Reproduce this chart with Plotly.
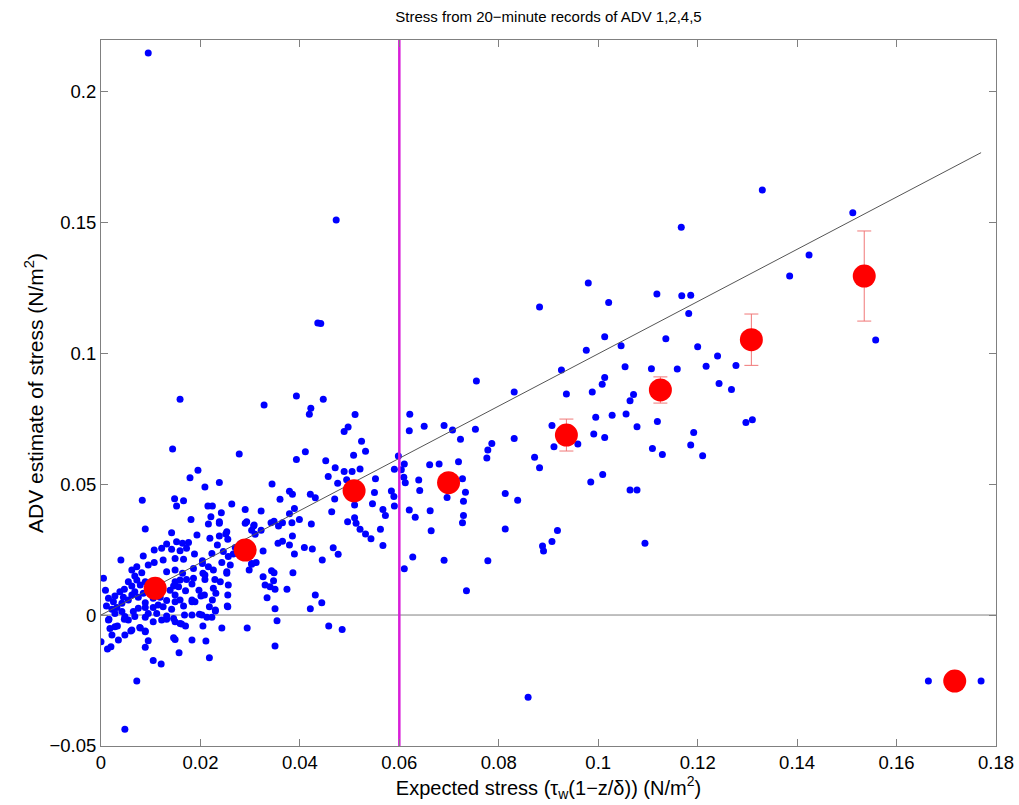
import plotly.graph_objects as go

# ---------------- data ----------------
blue_x = [
0.0095,0.0473,0.0436,0.0442,0.0755,0.0831,0.0882,0.0980,0.0976,0.0926,0.0936,0.0988,0.0159,0.0393,0.0447,
0.1330,0.1512,0.1167,0.1424,0.1385,0.1021,0.1118,0.1168,0.1186,0.1182,0.1013,0.1046,0.1136,0.1200,0.1240,
0.1054,0.1107,0.1159,0.1217,0.1277,0.1013,0.1008,0.1243,0.1268,0.1071,0.1064,0.1028,0.1056,0.1119,0.1078,
0.1297,0.1310,0.1013,0.1192,0.1109,0.1129,0.1186,0.1210,0.1558,
0.1009,0.1064,0.1078,0.1094,
0.0859,0.1664,0.1770,
0.0621,0.0620,0.0650,0.0690,0.0707,0.0753,0.0723,0.0786,0.0778,0.0776,0.0831,0.0907,0.0911,0.0959,0.0991,
0.0995,0.0872,0.0882,0.0985,0.0610,0.0661,0.0680,0.0719,0.0727,0.0609,0.0639,0.0641,0.0696,0.0733,0.0729,
0.0729,0.0727,0.0813,0.0838,0.0620,0.0662,0.0632,0.0664,0.0813,0.0918,0.0907,0.0888,0.0890,0.0627,0.0610,
0.0690,0.0778,0.0735,0.0604,0.0612,
0.0328,0.0422,0.0419,0.0511,0.0489,0.0497,0.0524,0.0532,0.0411,0.0393,0.0452,0.0508,0.0598,0.0471,0.0489,
0.0505,0.0521,0.0457,0.0552,0.0476,0.0494,0.0590,0.0344,0.0379,0.0385,0.0360,0.0421,0.0431,0.0470,0.0464,
0.0510,0.0550,0.0546,0.0584,0.0589,0.0590,0.0567,0.0572,0.0389,0.0379,0.0399,0.0423,0.0384,0.0365,0.0357,
0.0348,0.0322,0.0308,0.0310,0.0496,0.0510,0.0521,0.0532,0.0543,0.0562,0.0567,0.0513,0.0385,0.0365,0.0356,
0.0379,0.0409,0.0425,0.0326,0.0389,0.0467,0.0477,0.0445,0.0303,0.0326,0.0343,0.0348,0.0386,0.0330,0.0340,
0.0350,0.0334,0.0374,0.0431,0.0444,0.0421,0.0350,0.0354,0.0458,0.0485,
0.0048,0.0072,0.0105,0.0121,0.0157,0.0218,0.0350,0.0294,0.0243,0.0000,0.0013,0.0020,0.0035,0.0022,0.0048,
0.0060,0.0018,0.0033,0.0016,0.0047,0.0079,0.0089,0.0095,0.0089,0.0146,0.0149,0.0183,0.0211,0.0162,0.0170,
0.0205,0.0149,0.0132,0.0168,0.0198,0.0213,0.0230,0.0254,0.0255,0.0224,0.0208,0.0231,0.0183,
0.0089,0.0142,0.0193,0.0216,0.0238,0.0253,0.0238,0.0219,0.0290,0.0303,0.0152,0.0164,0.0176,0.0132,0.0122,
0.0142,0.0159,0.0172,0.0188,0.0107,0.0085,0.0040,0.0107,0.0125,0.0149,0.0166,0.0204,0.0223,0.0234,0.0246,
0.0256,0.0260,0.0243,0.0226,0.0209,0.0209,0.0229,0.0240,0.0256,0.0226,0.0197,0.0183,0.0186,0.0164,0.0149,
0.0132,0.0082,0.0068,0.0055,0.0062,0.0047,0.0038,0.0005,0.0009,0.0025,0.0032,0.0022,0.0042,0.0055,0.0062,
0.0075,0.0075,0.0089,0.0089,0.0105,0.0115,0.0125,0.0132,0.0142,0.0132,0.0146,0.0149,0.0159,0.0166,0.0170,
0.0156,0.0146,0.0183,0.0189,0.0201,0.0218,0.0230,0.0203,0.0223,0.0183,0.0159,0.0055,0.0028,0.0015,0.0062,
0.0078,0.0089,0.0105,0.0122,0.0270,0.0280,0.0266,0.0298,0.0303,0.0253,0.0255,0.0015,0.0011,0.0028,0.0042,
0.0048,0.0065,0.0068,0.0112,0.0095,0.0089,0.0045,0.0028,0.0068,0.0085,0.0079,0.0089,0.0072,0.0062,0.0072,
0.0095,0.0149,0.0139,0.0159,0.0172,0.0149,0.0119,0.0105,
0.0144,0.0278,0.0195,0.0179,0.0209,0.0238,0.0083,0.0148,0.0152,0.0166,0.0215,0.0224,0.0263,0.0290,0.0322,
0.0181,0.0221,0.0242,0.0238,0.0251,0.0255,0.0293,0.0307,0.0342,0.0312,0.0347,0.0204,0.0186,0.0205,0.0216,
0.0253,
]
blue_y = [
0.2145,0.1508,0.1115,0.1113,0.0893,0.0851,0.1176,0.1267,0.1011,0.0935,0.0844,0.0851,0.0824,0.0836,0.0824,
0.1622,0.1536,0.1480,0.1374,0.1294,0.1193,0.1225,0.1219,0.1221,0.1151,0.1062,0.1028,0.1055,0.1024,0.0989,
0.0948,0.0940,0.0939,0.0950,0.0952,0.0907,0.0881,0.0884,0.0861,0.0842,0.0818,0.0763,0.0767,0.0739,0.0719,
0.0735,0.0745,0.0678,0.0697,0.0636,0.0613,0.0649,0.0608,0.1050,
0.0536,0.0477,0.0477,0.0274,
-0.0314,-0.0252,-0.0252,
0.0766,0.0703,0.0721,0.0723,0.0706,0.0709,0.0671,0.0655,0.0630,0.0599,0.0674,0.0723,0.0642,0.0653,0.0691,
0.0755,0.0602,0.0562,0.0508,0.0576,0.0574,0.0576,0.0585,0.0520,0.0526,0.0515,0.0475,0.0449,0.0469,0.0434,
0.0380,0.0352,0.0464,0.0438,0.0401,0.0398,0.0373,0.0322,0.0328,0.0323,0.0281,0.0263,0.0244,0.0221,0.0177,
0.0209,0.0207,0.0093,0.0555,0.0505,
0.0802,0.0789,0.0766,0.0765,0.0701,0.0718,0.0663,0.0625,0.0623,0.0594,0.0589,0.0610,0.0607,0.0562,0.0548,
0.0548,0.0557,0.0529,0.0520,0.0503,0.0516,0.0556,0.0500,0.0472,0.0461,0.0442,0.0461,0.0448,0.0443,0.0394,
0.0420,0.0468,0.0425,0.0473,0.0452,0.0416,0.0403,0.0380,0.0407,0.0387,0.0365,0.0347,0.0352,0.0352,0.0340,
0.0358,0.0324,0.0344,0.0308,0.0356,0.0371,0.0327,0.0309,0.0291,0.0327,0.0265,0.0350,0.0302,0.0282,0.0274,
0.0267,0.0258,0.0252,0.0244,0.0233,0.0257,0.0232,0.0210,0.0194,0.0146,0.0169,0.0161,0.0161,0.0115,0.0108,
0.0098,0.0066,0.0098,0.0076,0.0047,0.0024,0.0024,-0.0022,-0.0042,-0.0055,
-0.0436,-0.0252,-0.0174,-0.0187,-0.0144,-0.0163,-0.0118,-0.0050,-0.0050,-0.0102,-0.0130,-0.0121,-0.0095,-0.0076,-0.0076,
-0.0061,-0.0051,-0.0042,-0.0016,-0.0016,-0.0050,-0.0061,-0.0098,-0.0123,-0.0087,-0.0093,-0.0095,-0.0099,-0.0034,-0.0042,
-0.0042,-0.0026,-0.0016,0.0000,0.0003,-0.0009,0.0015,0.0034,0.0076,0.0057,0.0076,0.0083,0.0051,
0.0328,0.0314,0.0305,0.0347,0.0350,0.0318,0.0302,0.0293,0.0350,0.0324,0.0280,0.0274,0.0277,0.0271,0.0255,
0.0251,0.0245,0.0255,0.0233,0.0248,0.0225,0.0210,0.0200,0.0210,0.0216,0.0213,0.0207,0.0235,0.0267,0.0242,
0.0223,0.0191,0.0200,0.0172,0.0153,0.0136,0.0136,0.0127,0.0115,0.0102,0.0095,0.0118,0.0140,0.0159,0.0172,
0.0165,0.0161,0.0149,0.0127,0.0111,0.0098,0.0089,0.0140,0.0095,0.0051,0.0029,0.0022,0.0045,0.0057,0.0076,
0.0068,0.0026,0.0029,-0.0009,0.0029,0.0038,0.0032,0.0055,0.0022,-0.0004,-0.0013,0.0076,0.0057,0.0034,0.0093,
0.0108,0.0111,0.0057,0.0051,0.0073,0.0032,0.0019,0.0000,-0.0009,0.0000,-0.0032,-0.0019,-0.0045,-0.0019,-0.0057,
-0.0048,-0.0064,-0.0026,-0.0019,0.0258,0.0271,0.0233,0.0172,0.0197,0.0165,0.0032,0.0064,0.0034,0.0006,0.0013,
-0.0006,0.0013,-0.0006,0.0006,0.0006,0.0047,0.0068,0.0073,0.0089,0.0083,0.0115,0.0127,0.0134,0.0172,0.0184,
0.0191,0.0127,0.0095,0.0134,0.0136,0.0051,0.0068,0.0064,
0.0634,0.0615,0.0553,0.0524,0.0489,0.0506,0.0438,0.0444,0.0416,0.0436,0.0416,0.0416,0.0424,0.0403,0.0397,
0.0365,0.0375,0.0390,0.0356,0.0309,0.0289,0.0356,0.0340,0.0352,0.0200,0.0131,0.0197,0.0178,0.0159,0.0184,
0.0159,
]

bin_x = [0.0109, 0.0290, 0.0509, 0.0699, 0.0936, 0.1125, 0.1308, 0.1535, 0.1717]
bin_y = [0.0102, 0.0248, 0.0474, 0.0505, 0.0687, 0.0859, 0.1051, 0.1294, -0.0252]
bin_err = [0.0010, 0.0015, 0.0025, 0.0030, 0.0061, 0.0050, 0.0098, 0.0172, 0.0]

fit_x = [0.0, 0.177]
fit_y = [0.0, 0.1765]

cutoff_x = [0.06, 0.06]
cutoff_y = [-0.05, 0.2195]

x_ticks = [0, 0.02, 0.04, 0.06, 0.08, 0.1, 0.12, 0.14, 0.16, 0.18]
x_labels = ["0", "0.02", "0.04", "0.06", "0.08", "0.1", "0.12", "0.14", "0.16", "0.18"]
y_ticks = [-0.05, 0, 0.05, 0.1, 0.15, 0.2]
y_labels = ["\u22120.05", "0", "0.05", "0.1", "0.15", "0.2"]

FONT = "Liberation Sans, Arial, Helvetica, sans-serif"

fig = go.Figure()
fig.add_trace(go.Scatter(x=blue_x, y=blue_y, mode="markers",
                         marker=dict(color="#0000ff", size=7, line=dict(width=0)),
                         showlegend=False, hoverinfo="x+y"))
fig.add_trace(go.Scatter(x=fit_x, y=fit_y, mode="lines",
                         line=dict(color="#555555", width=1), showlegend=False))
fig.add_trace(go.Scatter(x=cutoff_x, y=cutoff_y, mode="lines",
                         line=dict(color="#d81ed8", width=2.5), showlegend=False))
fig.add_trace(go.Scatter(x=bin_x, y=bin_y, mode="markers",
                         marker=dict(color="#ff0000", size=23, line=dict(width=0)),
                         error_y=dict(type="data", array=bin_err, visible=True,
                                      color="#f07878", thickness=1, width=7),
                         showlegend=False))

axis_common = dict(
    showgrid=False, zeroline=False, showline=True, linecolor="#808080", linewidth=1,
    mirror="ticks", ticks="inside", ticklen=7, tickcolor="#808080", tickwidth=1,
    tickfont=dict(family=FONT, size=18.5, color="#000000"), automargin=False,
)

fig.update_layout(
    width=1019, height=805,
    margin=dict(l=101, r=23, t=40, b=59, autoexpand=False),
    paper_bgcolor="white", plot_bgcolor="white",
    title=dict(text="Stress from 20\u2212minute records of ADV 1,2,4,5",
               font=dict(family=FONT, size=15, color="#000000"),
               x=0.5, xref="paper", xanchor="center",
               y=1 - 17 / 805, yref="container", yanchor="middle"),
    xaxis=dict(range=[0, 0.18], tickvals=x_ticks, ticktext=x_labels,
               title=dict(text="Expected stress (\u03c4<sub>w</sub>(1\u2212z/\u03b4)) (N/m<sup>2</sup>)",
                          font=dict(family=FONT, size=20, color="#000000"), standoff=0),
               **axis_common),
    yaxis=dict(range=[-0.05, 0.2195], tickvals=y_ticks, ticktext=y_labels,
               title=dict(text="ADV estimate of stress (N/m<sup>2</sup>)",
                          font=dict(family=FONT, size=21, color="#000000"), standoff=0),
               **axis_common),
    shapes=[dict(type="line", xref="paper", yref="y", x0=0, x1=1, y0=0, y1=0,
                 line=dict(color="#808080", width=1), layer="below")],
)

fig.write_html("out.html", config={"displayModeBar": False},
               post_script="document.body.style.margin='0';document.body.style.overflow='hidden';")
